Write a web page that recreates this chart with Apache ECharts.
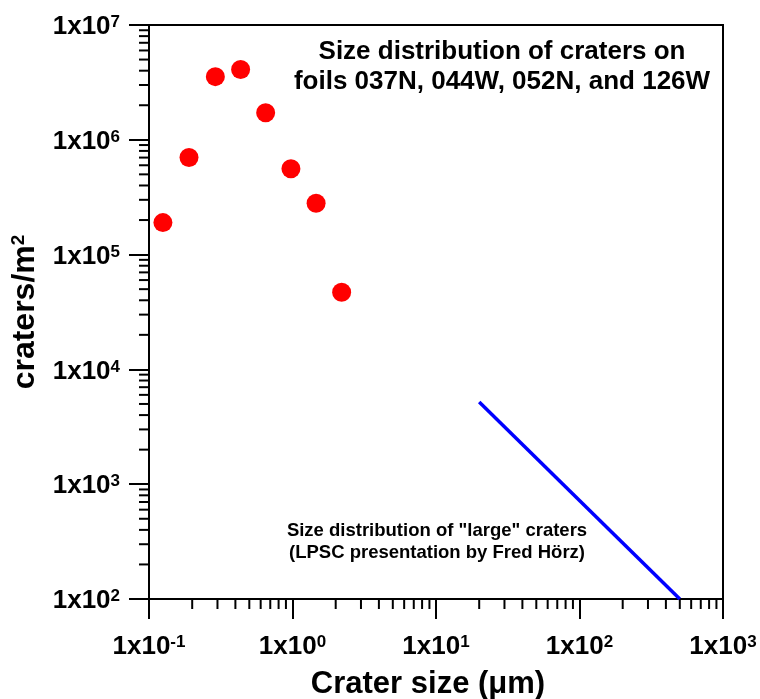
<!DOCTYPE html>
<html><head><meta charset="utf-8">
<script src="https://cdn.jsdelivr.net/npm/echarts@6/dist/echarts.min.js"></script>
<style>html,body{margin:0;padding:0;background:#fff}#c{width:760px;height:699px}</style>
</head><body><div id="c"></div>
<script>
// Crater data (foils 037N, 044W, 052N, 126W)
var craterSize = [0.125, 0.19, 0.29, 0.435, 0.65, 0.975, 1.46, 2.2];
var craterDensity = [1.9e5, 7.0e5, 3.55e6, 4.1e6, 1.72e6, 5.6e5, 2.8e5, 4.7e4];
// "large" craters line (LPSC presentation by Fred Hörz)
var largeSize = [20, 500];
var largeDensity = [5.2e3, 100];
// axis ranges
var xMin = 0.1, xMax = 1000, yMin = 100, yMax = 1e7;
var titleText = 'Size distribution of craters on\nfoils 037N, 044W, 052N, and 126W';
var noteText = 'Size distribution of "large" craters\n(LPSC presentation by Fred Hörz)';

function minorTicks(lo, hi) {
  var out = [];
  for (var d = lo; d < hi; d *= 10) {
    for (var k = 2; k <= 9; k++) out.push([d * k]);
  }
  return out;
}
var xMinor = minorTicks(xMin, xMax);
var yMinor = minorTicks(yMin, yMax);

var FONT = 'Liberation Sans, Arial, Helvetica, sans-serif';
function powLabel(v) {
  var e = Math.round(Math.log(v) / Math.LN10);
  return '{b|1x10}{s|' + e + '}';
}
var labRich = {
  b: {fontSize: 26, fontWeight: 'bold', fontFamily: FONT, color: '#000', lineHeight: 26},
  s: {fontSize: 17, fontWeight: 'bold', fontFamily: FONT, color: '#000', lineHeight: 15, verticalAlign: 'top'}
};

var chart = echarts.init(document.getElementById('c'), null, {renderer: 'canvas'});
chart.setOption({
  animation: false,
  backgroundColor: '#fff',
  grid: {left: 149, right: 37, top: 25, bottom: 100, outerBoundsMode: 'none', containLabel: false, show: true, borderColor: '#000', borderWidth: 2, backgroundColor: 'transparent'},
  xAxis: {
    type: 'log', logBase: 10, min: xMin, max: xMax,
    name: 'Crater size (μm)', nameLocation: 'middle', nameGap: 70, nameMoveOverlap: false,
    nameTextStyle: {fontSize: 31, fontWeight: 'bold', fontFamily: FONT, color: '#000', lineHeight: 31, padding: [0, 16, 0, 0]},
    axisLine: {show: true, lineStyle: {color: '#000', width: 2}},
    axisTick: {show: true, length: 20, lineStyle: {color: '#000', width: 2}},
    minorTick: {show: false},
    splitLine: {show: false},
    axisLabel: {margin: 35, formatter: powLabel, rich: labRich}
  },
  yAxis: {
    type: 'log', logBase: 10, min: yMin, max: yMax,
    name: '{a|craters/m}{s|2}', nameLocation: 'middle', nameGap: 108, nameMoveOverlap: false,
    nameTextStyle: {rich: {
      a: {fontSize: 32, fontWeight: 'bold', fontFamily: FONT, color: '#000', lineHeight: 32},
      s: {fontSize: 19, fontWeight: 'bold', fontFamily: FONT, color: '#000', lineHeight: 17, verticalAlign: 'top'}
    }},
    axisLine: {show: true, lineStyle: {color: '#000', width: 2}},
    axisTick: {show: true, length: 20, lineStyle: {color: '#000', width: 2}},
    minorTick: {show: false},
    splitLine: {show: false},
    axisLabel: {margin: 29, formatter: powLabel, rich: labRich, padding: [4, 0, 0, 0]}
  },
  graphic: [
    {type: 'text', x: 502, y: 37, style: {text: titleText, textAlign: 'center', font: 'bold 26px ' + FONT, fill: '#000', lineHeight: 30}},
    {type: 'text', x: 437, y: 520, style: {text: noteText, textAlign: 'center', font: 'bold 18.5px ' + FONT, fill: '#000', lineHeight: 22}}
  ],
  series: [
    {
      type: 'line', data: largeSize.map(function (x, i) { return [x, largeDensity[i]]; }),
      showSymbol: false, symbol: 'none', lineStyle: {color: '#0000ff', width: 3.5}, z: 3
    },
    {
      type: 'scatter', data: craterSize.map(function (x, i) { return [x, craterDensity[i]]; }),
      symbol: 'circle', symbolSize: 19, itemStyle: {color: '#ff0000', opacity: 1}, z: 4
    },
    {
      type: 'custom', clip: false, silent: true, data: xMinor, encode: {x: 0},
      renderItem: function (params, api) {
        var p = api.coord([api.value(0), yMin]);
        return {type: 'line', shape: {x1: p[0], y1: p[1], x2: p[0], y2: p[1] + 10}, style: {stroke: '#000', lineWidth: 2}};
      }
    },
    {
      type: 'custom', clip: false, silent: true, data: yMinor.map(function (d) { return [xMin, d[0]]; }), encode: {x: 0, y: 1},
      renderItem: function (params, api) {
        var p = api.coord([xMin, api.value(1)]);
        return {type: 'line', shape: {x1: p[0], y1: p[1], x2: p[0] - 10, y2: p[1]}, style: {stroke: '#000', lineWidth: 2}};
      }
    }
  ]
});
</script></body></html>
